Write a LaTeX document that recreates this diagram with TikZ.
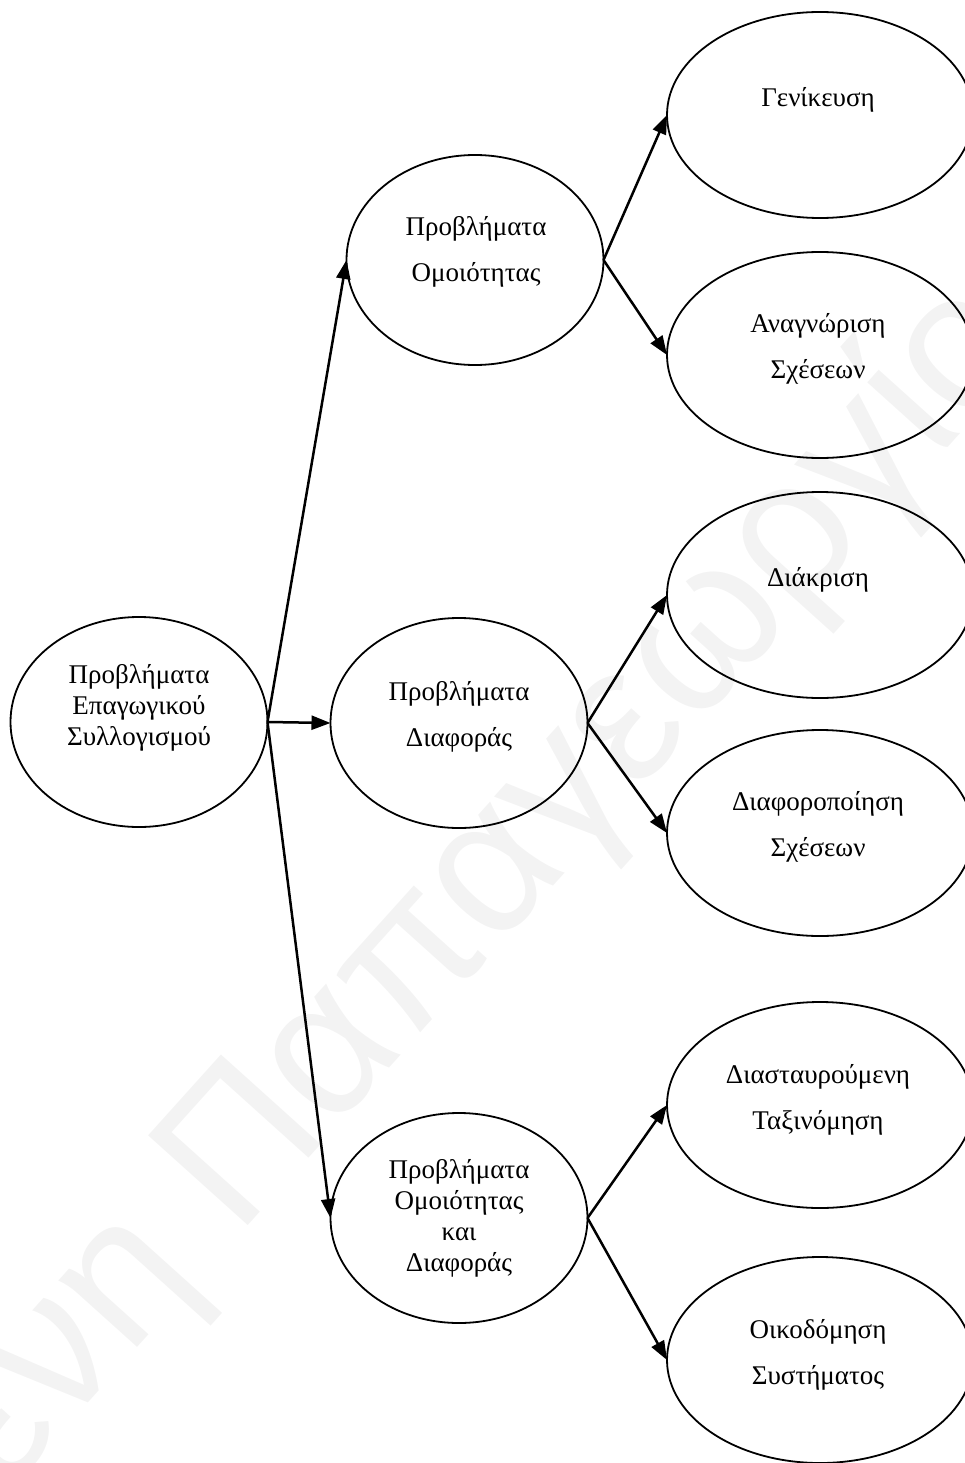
\documentclass[tikz,border=0pt]{standalone}
\usepackage{fontspec}
\setmainfont{Liberation Serif}
\newfontfamily\wmfont{Liberation Sans}
\usetikzlibrary{shapes.geometric,arrows.meta}
\definecolor{wmgray}{HTML}{F3F3F3}
\begin{document}
\begin{tikzpicture}[x=1pt,y=-1pt,
  oval/.style={draw,ellipse,line width=1.8pt,inner sep=0pt,outer sep=0pt},
  midoval/.style={oval,minimum width=257pt,minimum height=210pt},
  sideoval/.style={oval,minimum width=306pt,minimum height=206pt},
  tight/.style={align=center,font=\fontsize{27}{31}\selectfont},
  loose/.style={align=center,font=\fontsize{27}{46}\selectfont},
  link/.style={line width=2.5pt,-{Triangle[length=19pt,width=14pt]}}]
\useasboundingbox (0,0) rectangle (965,1463);
\clip (0,0) rectangle (965,1463);

% watermark behind everything
\node[anchor=base west,rotate=48,inner sep=0pt,text=wmgray,
      font=\wmfont\fontsize{195}{195}\selectfont] (wm) at (5,1495) {ενη Παπαγεωργίου};

% ellipses
\node[midoval] (root) at (139,722) {};
\node[midoval] (sim)  at (475,260) {};
\node[midoval] (dif)  at (459,723) {};
\node[midoval] (both) at (459,1218) {};
\node[sideoval] (gen)  at (820,115) {};
\node[sideoval] (rec)  at (820,355) {};
\node[sideoval] (dis)  at (820,595) {};
\node[sideoval] (drel) at (820,833) {};
\node[sideoval] (cross) at (820,1105) {};
\node[sideoval] (sys)  at (820,1360) {};

% labels
\node[tight] (troot) at (139,708) {Προβλήματα\\Επαγωγικού\\Συλλογισμού};
\node[loose] (tsim)  at (476,252) {Προβλήματα\\Ομοιότητας};
\node[loose] (tdif)  at (459,717) {Προβλήματα\\Διαφοράς};
\node[tight] (tboth) at (459,1218) {Προβλήματα\\Ομοιότητας\\και\\Διαφοράς};
\node[loose] (tgen)  at (818,100) {Γενίκευση};
\node[loose] (trec)  at (818,349) {Αναγνώριση\\Σχέσεων};
\node[loose] (tdis)  at (818,580) {Διάκριση};
\node[loose] (tdrel) at (818,827) {Διαφοροποίηση\\Σχέσεων};
\node[loose] (tcross) at (818,1100) {Διασταυρούμενη\\Ταξινόμηση};
\node[loose] (tsys)  at (818,1355) {Οικοδόμηση\\Συστήματος};

% connectors
\draw[link] (root.east) -- (sim.west);
\draw[link] (root.east) -- (dif.west);
\draw[link] (root.east) -- (both.west);
\draw[link] (sim.east) -- (gen.west);
\draw[link] (sim.east) -- (rec.west);
\draw[link] (dif.east) -- (dis.west);
\draw[link] (dif.east) -- (drel.west);
\draw[link] (both.east) -- (cross.west);
\draw[link] (both.east) -- (sys.west);
\end{tikzpicture}
\end{document}
